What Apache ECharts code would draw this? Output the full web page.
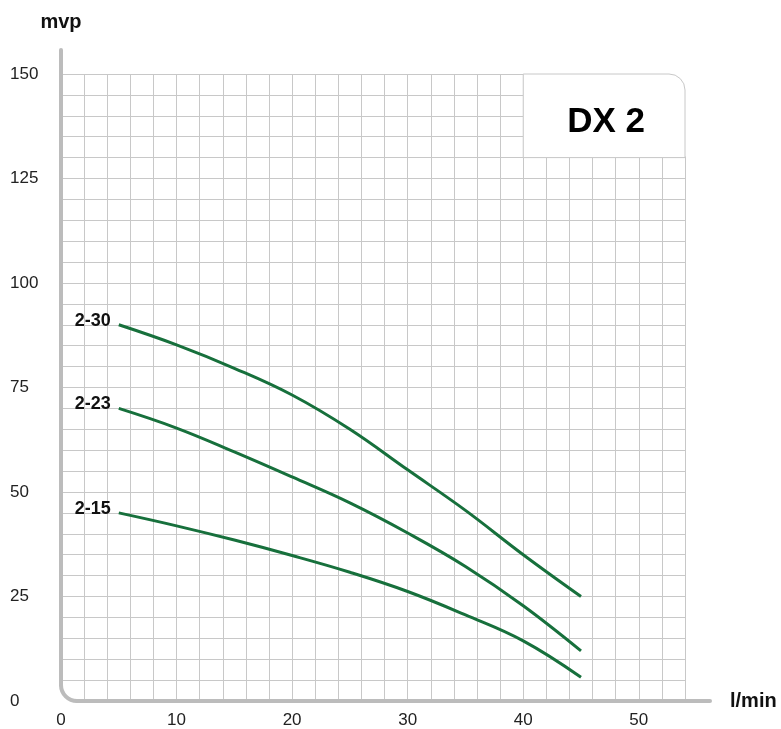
<!DOCTYPE html>
<html>
<head>
<meta charset="utf-8">
<title>DX 2</title>
<script src="https://cdn.jsdelivr.net/npm/echarts@6/dist/echarts.min.js"></script>
<style>
  html, body { margin: 0; padding: 0; background: #fff; }
  #main { width: 781px; height: 729px; }
</style>
</head>
<body>
<div id="main"></div>
<script>
  // 数据 (l/min - mvp)
  var flow = [5, 10, 15, 20, 25, 30, 35, 40, 45];
  var head230 = [90, 85.2, 79.6, 73.2, 65, 55.3, 45.6, 35, 25];
  var head223 = [70, 65.3, 59.6, 53.6, 47.4, 40.2, 32.2, 22.8, 12];
  var head215 = [45, 41.9, 38.5, 34.8, 30.8, 26.2, 20.6, 14.4, 5.7];
  var curveNames = ['2-30', '2-23', '2-15'];
  var xTicks = [0, 10, 20, 30, 40, 50];
  var yTicks = [0, 25, 50, 75, 100, 125, 150];

  var font = 'Liberation Sans, Arial, sans-serif';
  var gridColor = '#c8c8c8';
  var axisColor = '#bcbcbc';
  var lineColor = '#17703c';

  var myChart = echarts.init(document.getElementById('main'));

  // 曲线数据 + 起点标签
  function makeSeries(name, heads) {
    var data = flow.map(function (q, i) {
      var item = {value: [q, heads[i]]};
      if (i === 0) {
        item.label = {
          show: true,
          position: 'left',
          distance: 8,
          offset: [0, -4],
          formatter: name,
          fontFamily: font,
          fontWeight: 'bold',
          fontSize: 18,
          color: '#111'
        };
      }
      return item;
    });
    return {
      name: name,
      type: 'line',
      smooth: 0.4,
      showSymbol: true,
      symbol: 'circle',
      symbolSize: 0,
      label: {show: false},
      lineStyle: {color: lineColor, width: 3},
      itemStyle: {color: lineColor},
      data: data
    };
  }

  var option = {
    animation: false,
    grid: {left: 61, top: 74, right: 96, bottom: 28},
    xAxis: {
      type: 'value',
      min: 0,
      max: 54,
      interval: 2,
      name: 'l/min',
      nameLocation: 'end',
      nameGap: 45,
      nameTextStyle: {fontFamily: font, fontWeight: 'bold', fontSize: 20, color: '#111'},
      axisLine: {show: false},
      axisTick: {show: false},
      axisLabel: {
        margin: 11,
        fontFamily: font,
        fontSize: 17,
        color: '#222',
        formatter: function (v) { return xTicks.indexOf(v) >= 0 ? String(v) : ''; }
      },
      splitLine: {show: true, showMinLine: false, lineStyle: {color: gridColor, width: 1}}
    },
    yAxis: {
      type: 'value',
      min: 0,
      max: 150,
      interval: 5,
      name: 'mvp',
      nameLocation: 'end',
      nameGap: 42,
      nameTextStyle: {fontFamily: font, fontWeight: 'bold', fontSize: 20, color: '#111'},
      axisLine: {show: false},
      axisTick: {show: false},
      axisLabel: {
        margin: 51,
        align: 'left',
        fontFamily: font,
        fontSize: 17,
        color: '#222',
        formatter: function (v) { return yTicks.indexOf(v) >= 0 ? String(v) : ''; }
      },
      splitLine: {show: true, showMinLine: false, lineStyle: {color: gridColor, width: 1}}
    },
    series: [
      makeSeries(curveNames[0], head230),
      makeSeries(curveNames[1], head223),
      makeSeries(curveNames[2], head215)
    ]
  };
  myChart.setOption(option, true);

  // 轴线 (圆角) 和 标题框
  function px(p) { return myChart.convertToPixel({gridIndex: 0}, p); }
  var o = px([0, 0]);
  var tr = px([54, 150]);
  var boxLT = px([40, 150]);
  var boxRB = px([54, 130]);
  var r = 16;
  var axisStyle = {stroke: axisColor, lineWidth: 4, lineCap: 'round', fill: null};

  myChart.setOption({
    graphic: [
      {
        type: 'rect', z: 5, silent: true,
        shape: {x: boxLT[0] + 1, y: boxLT[1] - 3, width: boxRB[0] - boxLT[0] + 3, height: boxRB[1] - boxLT[1] + 2},
        style: {fill: '#fff'}
      },
      {
        type: 'rect', z: 6, silent: true,
        shape: {x: boxLT[0], y: boxLT[1], width: boxRB[0] - boxLT[0], height: boxRB[1] - boxLT[1], r: [0, 16, 0, 0]},
        style: {fill: '#fff', stroke: gridColor, lineWidth: 1}
      },
      {
        type: 'text', z: 7, silent: true,
        x: (boxLT[0] + boxRB[0]) / 2 + 2, y: (boxLT[1] + boxRB[1]) / 2 + 7,
        style: {
          text: 'DX 2', fontFamily: font, fontWeight: 'bold', fontSize: 35, fill: '#000',
          align: 'center', verticalAlign: 'middle'
        }
      },
      // 纵轴
      {
        type: 'line', z: 8, silent: true,
        shape: {x1: o[0], y1: tr[1] - 24, x2: o[0], y2: o[1] - r},
        style: axisStyle
      },
      // 圆角
      {
        type: 'arc', z: 8, silent: true,
        shape: {cx: o[0] + r, cy: o[1] - r, r: r, startAngle: Math.PI / 2, endAngle: Math.PI, clockwise: true},
        style: axisStyle
      },
      // 横轴
      {
        type: 'line', z: 8, silent: true,
        shape: {x1: o[0] + r, y1: o[1], x2: tr[0] + 25, y2: o[1]},
        style: axisStyle
      }
    ]
  });
</script>
</body>
</html>
